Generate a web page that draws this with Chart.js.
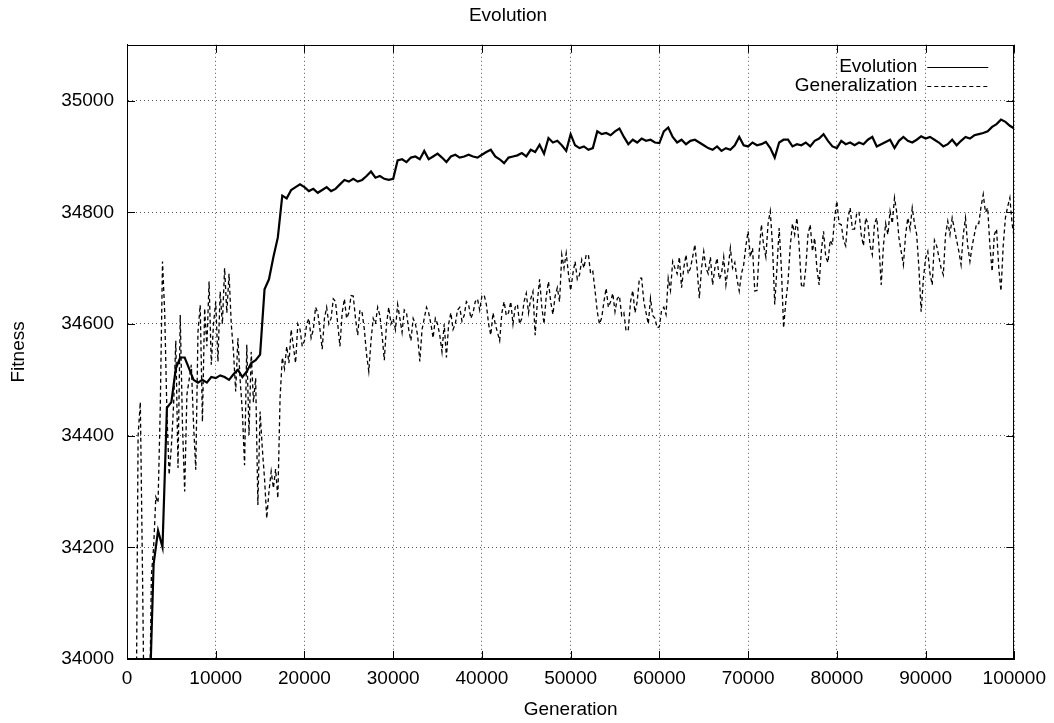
<!DOCTYPE html>
<html>
<head>
<meta charset="utf-8">
<style>
  html, body { margin: 0; padding: 0; background: #fff; }
  #wrap { width: 1054px; height: 723px; }
</style>
<script src="https://cdn.jsdelivr.net/npm/chart.js@4/dist/chart.umd.min.js"></script>
</head>
<body>
<div id="wrap"><canvas id="c" width="1054" height="723"></canvas></div>
<script>
// ---- data ----
const GEN_MIN = 0, GEN_MAX = 100000;
const EVO_STEP = 500;   // sampling of the Evolution readings
const GENZ_STEP = 250;  // sampling of the Generalization readings
const evoGenerations = [];
for (let g = GEN_MIN; g <= GEN_MAX; g += EVO_STEP) evoGenerations.push(g);
const genzGenerations = [];
for (let g = GEN_MIN; g <= GEN_MAX; g += GENZ_STEP) genzGenerations.push(g);

const xTicks = [0, 10000, 20000, 30000, 40000, 50000, 60000, 70000, 80000, 90000, 100000];
const yTicks = [34000, 34200, 34400, 34600, 34800, 35000];

// Evolution, every 500 generations
const evolution = [
33800,33800,33800,33800,33800,33900,34170,34230,34200,34450,
34460,34520,34540,34540,34520,34500,34495,34500,34495,34505,
34503,34508,34505,34500,34510,34518,34505,34515,34530,34535,
34545,34662,34680,34720,34755,34830,34825,34840,34845,34850,
34845,34838,34842,34835,34840,34845,34838,34842,34850,34858,
34855,34860,34855,34858,34865,34873,34862,34865,34860,34858,
34860,34893,34895,34890,34898,34900,34895,34910,34895,34900,
34905,34898,34890,34900,34903,34898,34900,34903,34900,34898,
34903,34908,34912,34900,34895,34888,34898,34900,34902,34906,
34900,34912,34908,34921,34905,34933,34925,34928,34920,34910,
34940,34920,34915,34918,34912,34915,34945,34940,34942,34938,
34945,34950,34935,34922,34930,34925,34932,34928,34930,34925,
34924,34945,34952,34935,34925,34930,34922,34928,34930,34925,
34920,34915,34912,34918,34910,34915,34912,34920,34935,34920,
34918,34925,34920,34922,34926,34915,34898,34925,34930,34930,
34918,34922,34920,34925,34918,34928,34932,34940,34928,34918,
34915,34928,34922,34925,34920,34925,34922,34930,34935,34918,
34922,34926,34930,34915,34928,34935,34928,34925,34930,34936,
34932,34935,34930,34925,34918,34922,34930,34920,34928,34935,
34932,34938,34940,34942,34945,34953,34958,34966,34962,34955,
34950
];

// Generalization, every 250 generations (20 readings per 5000)
const generalization = [
33800,33800,33800,33800,33800,34400,34460,34150,33800,33800,33850,34150,34200,34290,34280,34450,34712,34620,34440,34330,
34380,34455,34570,34342,34616,34420,34300,34473,34500,34527,34420,34339,34586,34634,34425,34628,34560,34676,34527,34600,
34640,34533,34658,34600,34700,34620,34690,34600,34550,34479,34575,34500,34443,34347,34563,34401,34550,34460,34503,34276,
34443,34377,34323,34252,34300,34336,34306,34340,34288,34467,34540,34520,34560,34530,34590,34560,34530,34600,34590,34560,
34570,34600,34610,34575,34590,34630,34620,34590,34555,34610,34630,34600,34610,34645,34640,34600,34560,34620,34645,34610,
34620,34651,34650,34610,34580,34625,34620,34590,34545,34515,34570,34610,34600,34630,34615,34580,34535,34600,34630,34600,
34610,34590,34635,34610,34585,34625,34620,34590,34570,34610,34600,34580,34533,34590,34610,34630,34620,34600,34575,34610,
34600,34580,34550,34600,34540,34600,34620,34590,34600,34625,34630,34605,34615,34640,34635,34610,34620,34640,34645,34625,
34650,34652,34635,34600,34580,34620,34600,34585,34570,34620,34640,34615,34620,34640,34600,34630,34635,34600,34610,34640,
34655,34620,34645,34658,34580,34640,34680,34630,34600,34650,34676,34640,34617,34650,34665,34640,34724,34700,34727,34690,
34660,34690,34712,34680,34688,34715,34700,34724,34724,34690,34694,34660,34622,34600,34611,34640,34664,34630,34640,34655,
34622,34645,34650,34615,34620,34587,34590,34640,34660,34620,34640,34682,34682,34640,34620,34600,34646,34615,34610,34593,
34595,34625,34630,34617,34682,34660,34712,34700,34690,34720,34665,34700,34724,34690,34700,34720,34742,34700,34646,34700,
34730,34700,34690,34720,34670,34700,34718,34680,34690,34720,34670,34700,34736,34700,34710,34680,34659,34690,34706,34740,
34766,34720,34736,34659,34660,34730,34778,34740,34720,34780,34802,34740,34635,34700,34772,34700,34593,34640,34676,34740,
34780,34760,34790,34740,34670,34665,34700,34760,34778,34730,34754,34700,34670,34730,34766,34720,34710,34750,34742,34790,
34820,34780,34778,34750,34740,34790,34808,34770,34770,34800,34800,34760,34740,34790,34780,34740,34724,34780,34790,34740,
34670,34740,34780,34760,34802,34780,34826,34800,34754,34730,34706,34760,34790,34770,34808,34780,34760,34700,34622,34680,
34718,34730,34690,34670,34750,34740,34720,34700,34688,34760,34784,34760,34790,34770,34750,34730,34706,34760,34790,34740,
34712,34740,34760,34780,34780,34810,34832,34800,34808,34740,34694,34760,34770,34700,34659,34740,34790,34810,34826,34780,
34754
];

const seriesNames = ['Evolution', 'Generalization'];
const chartTitle = 'Evolution';
const xTitle = 'Generation';
const yTitle = 'Fitness';

// ---- drawing ----
const FONT = "'Liberation Sans', Arial, Helvetica, sans-serif";
const FS = 19;

const toPoints = (xs, vals) => vals.map((v, i) => ({ x: xs[i], y: v }));

const framePlugin = {
  id: 'frame',
  afterDatasetsDraw(chart) {
    const { ctx, chartArea: a, scales: { x, y } } = chart;
    ctx.save();
    ctx.strokeStyle = '#000';
    ctx.lineWidth = 1;
    ctx.setLineDash([]);
    ctx.strokeRect(Math.round(a.left) + 0.5, Math.round(a.top) + 0.5,
                   Math.round(a.right - a.left) - 1, Math.round(a.bottom - a.top) - 1);
    const tl = 8;
    ctx.beginPath();
    xTicks.forEach(v => {
      const px = Math.round(x.getPixelForValue(v)) + 0.5;
      ctx.moveTo(px, a.bottom); ctx.lineTo(px, a.bottom - tl);
      ctx.moveTo(px, a.top); ctx.lineTo(px, a.top + tl);
    });
    yTicks.forEach(v => {
      const py = Math.round(y.getPixelForValue(v)) + 0.5;
      ctx.moveTo(a.left, py); ctx.lineTo(a.left + tl, py);
      ctx.moveTo(a.right, py); ctx.lineTo(a.right - tl, py);
    });
    ctx.stroke();

    // legend (top right, inside plot)
    ctx.font = FS + 'px ' + FONT;
    ctx.fillStyle = '#000';
    ctx.textAlign = 'right';
    ctx.textBaseline = 'middle';
    const rows = [a.top + 22, a.top + 41];
    const textX = a.right - 97;
    chart.data.datasets.forEach((ds, i) => {
      ctx.fillText(ds.label, textX, rows[i]);
      ctx.beginPath();
      ctx.lineWidth = 1;
      ctx.setLineDash(ds.borderDash || []);
      ctx.moveTo(a.right - 87, Math.round(rows[i]) + 0.5);
      ctx.lineTo(a.right - 26, Math.round(rows[i]) + 0.5);
      ctx.stroke();
    });
    ctx.restore();
  }
};

new Chart(document.getElementById('c'), {
  type: 'line',
  data: {
    datasets: [
      {
        label: seriesNames[0],
        data: toPoints(evoGenerations, evolution),
        borderColor: '#000',
        borderWidth: 2.2,
        pointRadius: 0,
        tension: 0,
        fill: false
      },
      {
        label: seriesNames[1],
        data: toPoints(genzGenerations, generalization),
        borderColor: '#000',
        borderWidth: 1.3,
        borderDash: [4, 3],
        pointRadius: 0,
        tension: 0,
        fill: false
      }
    ]
  },
  options: {
    responsive: false,
    animation: false,
    events: [],
    layout: { padding: { left: 0, right: 38, top: 0, bottom: 0 } },
    plugins: {
      legend: { display: false },
      tooltip: { enabled: false },
      title: {
        display: true,
        text: chartTitle,
        color: '#000',
        font: { family: FONT, size: FS, weight: 'normal' },
        padding: { top: 4, bottom: 18 }
      }
    },
    scales: {
      x: {
        type: 'linear',
        min: GEN_MIN,
        max: GEN_MAX,
        afterBuildTicks: s => { s.ticks = xTicks.map(v => ({ value: v })); },
        afterFit: s => { s.height = 64; },
        ticks: {
          color: '#000',
          font: { family: FONT, size: FS },
          padding: 8,
          maxRotation: 0,
          autoSkip: false,
          callback: v => String(v)
        },
        grid: { color: '#555', lineWidth: 1, drawTicks: false },
        border: { display: true, color: '#000', dash: [1, 3] },
        title: {
          display: true,
          text: xTitle,
          color: '#000',
          font: { family: FONT, size: FS },
          padding: { top: 0, bottom: 2 }
        }
      },
      y: {
        type: 'linear',
        min: 34000,
        max: 35100,
        afterBuildTicks: s => { s.ticks = yTicks.map(v => ({ value: v })); },
        afterFit: s => { s.width = 127; },
        ticks: {
          color: '#000',
          font: { family: FONT, size: FS },
          padding: 13,
          autoSkip: false,
          callback: v => String(v)
        },
        grid: { color: '#555', lineWidth: 1, drawTicks: false },
        border: { display: true, color: '#000', dash: [1, 3] },
        title: {
          display: true,
          text: yTitle,
          color: '#000',
          font: { family: FONT, size: FS },
          padding: { top: 7, bottom: 0 }
        }
      }
    }
  },
  plugins: [framePlugin]
});
</script>
</body>
</html>
